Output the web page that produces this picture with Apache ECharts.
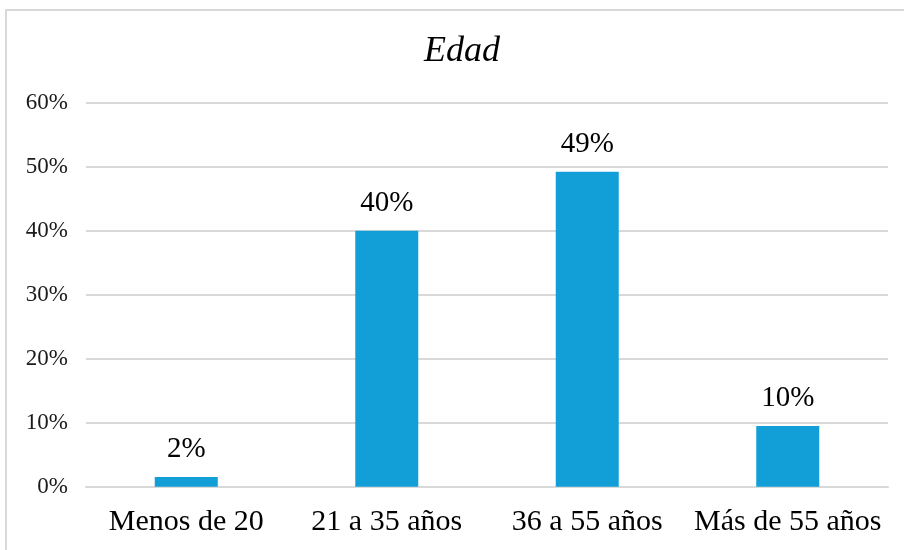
<!DOCTYPE html>
<html>
<head>
<meta charset="utf-8">
<script src="https://cdn.jsdelivr.net/npm/echarts@6/dist/echarts.min.js"></script>
<style>
  html, body { margin: 0; padding: 0; background: #fff; }
  #chart { width: 904px; height: 550px; }
</style>
</head>
<body>
<div id="chart"></div>
<script>
// Age groups and their share of respondents (percent)
const categories = ['Menos de 20', '21 a 35 años', '36 a 55 años', 'Más de 55 años'];
const shares = [1.5, 40, 49.2, 9.5];
const yTicks = { min: 0, max: 60, interval: 10 };
const titleText = 'Edad';

const serif = '"Liberation Serif", "Times New Roman", serif';

const chart = echarts.init(document.getElementById('chart'), null, { renderer: 'canvas' });
chart.setOption({
  backgroundColor: '#ffffff',
  animation: false,
  title: {
    text: titleText,
    left: 424,
    top: 34,
    padding: 0,
    textStyle: {
      fontFamily: serif,
      fontStyle: 'italic',
      fontWeight: 'normal',
      fontSize: 36,
      color: '#000000'
    }
  },
  graphic: [{
    type: 'rect',
    shape: { x: 6, y: 10, width: 1000, height: 600 },
    style: { fill: 'none', stroke: '#d9d9d9', lineWidth: 2 },
    silent: true,
    z: -1
  }],
  grid: { left: 86, right: 16, top: 102.7, bottom: 63.3 },
  xAxis: {
    type: 'category',
    data: categories,
    axisLine: { show: true, lineStyle: { color: '#d9d9d9', width: 2 } },
    axisTick: { show: false },
    axisLabel: {
      fontFamily: serif,
      fontSize: 30,
      color: '#000000',
      margin: 20,
      interval: 0
    }
  },
  yAxis: {
    type: 'value',
    min: yTicks.min,
    max: yTicks.max,
    interval: yTicks.interval,
    axisLine: { show: false },
    axisTick: { show: false },
    splitLine: { lineStyle: { color: '#d9d9d9', width: 2 } },
    axisLabel: {
      fontFamily: serif,
      fontSize: 23,
      color: '#1a1a1a',
      margin: 18,
      formatter: v => v + '%'
    }
  },
  series: [{
    type: 'bar',
    data: shares,
    barWidth: 63,
    itemStyle: { color: '#129fd8' },
    label: {
      show: true,
      position: 'top',
      distance: 13,
      fontFamily: serif,
      fontSize: 29,
      color: '#000000',
      formatter: p => Math.round(p.value) + '%'
    }
  }]
});
</script>
</body>
</html>
